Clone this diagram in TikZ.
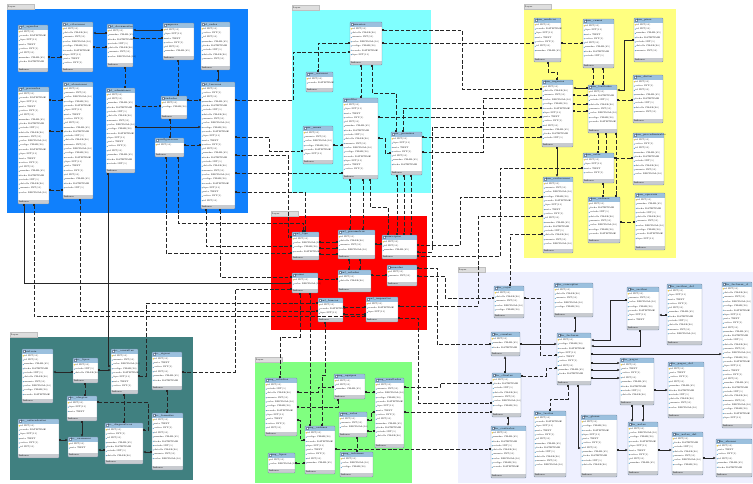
\documentclass[tikz,border=0pt]{standalone}
\usetikzlibrary{arrows.meta}

\definecolor{bluelayer}{RGB}{16,128,252}
\definecolor{cyanlayer}{RGB}{128,255,255}
\definecolor{yellowlayer}{RGB}{255,255,128}
\definecolor{redlayer}{RGB}{255,0,0}
\definecolor{lavlayer}{RGB}{238,240,255}
\definecolor{teallayer}{RGB}{64,128,128}
\definecolor{greenlayer}{RGB}{128,255,128}
\definecolor{tabhead}{RGB}{155,192,222}
\definecolor{tabfoot}{RGB}{200,203,208}
\definecolor{tabedge}{RGB}{120,140,165}
\definecolor{layertab}{RGB}{222,222,222}

% column texts, picked by row number
\newcommand{\colname}[1]{\ifcase#1 id INT(11)\or nombre CHAR(45)\or fecha DATETIME\or estado INT(1)\or detalle CHAR(90)\or usuario INT(11)\or valor DECIMAL(10)\or codigo CHAR(20)\or creado DATETIME\or tipo INT(11)\or nota TEXT\or activo INT(1)\fi}

% one table: name, x1, y1, x2, y2, title
\newcommand{\dbtab}[6]{%
  \pgfmathsetmacro\tbw{#4-#2}%
  \pgfmathsetmacro\tbh{#5-#3}%
  \pgfmathtruncatemacro\tbn{(\tbh-10.5)/4.3}%
  \node[dbbox, minimum width=\tbw pt, minimum height=\tbh pt, anchor=north west] (#1) at (#2,#3) {};
  \fill[tabhead] (#2,#3) rectangle (#4,#3+4.6);
  \fill[white, draw=tabedge, line width=0.2pt] (#2+0.9,#3+1.2) rectangle (#2+2.7,#3+3.4);
  \node[dbtitle, anchor=west] at (#2+3,#3+2.3) {#6};
  \fill[tabfoot] (#2,#5-4.4) rectangle (#4,#5);
  \node[dbrow, anchor=west] at (#2+0.8,#5-2.2) {Indexes};
  \foreach \k in {1,...,\tbn} {
    \pgfmathsetmacro\ry{#3+4.6+4.3*\k-2.1}
    \pgfmathtruncatemacro\ci{mod(\k+#2,12)}
    \ifnum\k=1 \fill[keycol] (#2+1.3,\ry) circle (0.7);
    \else \fill[fieldcol] (#2+1.3,\ry) circle (0.6); \fi
    \node[dbrow, anchor=west] at (#2+2.1,\ry) {\ifnum\k=1 \colname{0}\else\colname{\ci}\fi};
  }
  \draw[tabedge, line width=0.4pt, rounded corners=0.8pt] (#2,#3) rectangle (#4,#5);
}

% one layer: x1, y1, x2, y2, colour
\newcommand{\dblayer}[5]{%
  \fill[#5] (#1,#2) rectangle (#3,#4);
  \fill[layertab, draw=black!25, line width=0.2pt] (#1,#2-4.5) rectangle (#1+27,#2);
  \node[dbrow, anchor=west] at (#1+1,#2-2.3) {Layer};
}

\begin{document}
\begin{tikzpicture}[x=1pt, y=-1pt,
  dbbox/.style={fill=white, inner sep=0pt, outer sep=0pt},
  dbtitle/.style={font=\fontsize{2.5}{2.7}\selectfont, inner sep=0pt},
  dbrow/.style={font=\fontsize{2.2}{2.4}\selectfont, inner sep=0pt},
  keycol/.style={fill={rgb,255:red,240;green,190;blue,0}},
  fieldcol/.style={fill={rgb,255:red,80;green,160;blue,210}},
  rel/.style={black!85, line width=0.8pt, dash pattern=on 3.8pt off 1.9pt,
    {Square[length=1.8pt,width=1.8pt]}-{Square[length=1.8pt,width=1.8pt]}},
  relS/.style={black!85, line width=0.8pt,
    {Square[length=1.8pt,width=1.8pt]}-{Latex[length=2.6pt,width=2.4pt]}}]

\useasboundingbox (0,0) rectangle (753,483);

% layers
\dblayer{7}{9}{248}{213}{bluelayer}
\dblayer{292}{10}{431}{193}{cyanlayer}
\dblayer{524}{9}{676}{258}{yellowlayer}
\dblayer{271}{216}{427}{330}{redlayer}
\dblayer{458}{272}{753}{483}{lavlayer}
\dblayer{10}{337}{193}{480}{teallayer}
\dblayer{255}{362}{412}{483}{greenlayer}

% blue layer
\dbtab{afA}{18}{25}{48}{72}{af\_agendas}
\dbtab{afB}{62}{22}{93}{72}{af\_citaciones}
\dbtab{afC}{107}{24}{133}{67}{af\_documentos}
\dbtab{afD}{163}{23}{194}{60}{empresa}
\dbtab{afE}{201}{22}{230}{70}{af\_sedes}
\dbtab{afF}{18}{87}{49}{204}{af\_pacientes}
\dbtab{afG}{63}{82}{93}{199}{af\_atenciones}
\dbtab{afH}{106}{88}{135}{173}{af\_admisiones}
\dbtab{afI}{161}{96}{187}{119}{ciudades}
\dbtab{afJ}{155}{138}{184}{157}{configuracion}
\dbtab{afK}{201}{82}{235}{209}{af\_terceros}

% cyan layer
\dbtab{cyA}{350}{22}{382}{65}{usuarios}
\dbtab{cyB}{306}{72}{333}{92}{usr\_sesiones}
\dbtab{cyC}{343}{98}{378}{179}{perfiles}
\dbtab{cyD}{303}{126}{333}{164}{usr\_menu}
\dbtab{cyE}{391}{132}{422}{175}{usr\_permisos}

% yellow layer
\dbtab{hmA}{534}{18}{561}{62}{hm\_medicos}
\dbtab{hmB}{583}{19}{614}{68}{hm\_camas}
\dbtab{hmC}{634}{18}{663}{62}{hm\_pisos}
\dbtab{hmD}{542}{80}{573}{147}{hm\_ingresos}
\dbtab{hmE}{588}{85}{617}{133}{hm\_traslados}
\dbtab{hmF}{633}{75}{663}{123}{hm\_dietas}
\dbtab{hmG}{583}{153}{614}{183}{hm\_salas}
\dbtab{hmH}{633}{133}{664}{185}{hm\_procedimientos}
\dbtab{hmI}{543}{177}{573}{253}{hm\_evoluciones}
\dbtab{hmJ}{588}{197}{620}{243}{hm\_ordenes}
\dbtab{hmK}{635}{193}{665}{250}{hm\_epicrisis}

% red layer
\dbtab{rdA}{292}{232}{319}{260}{cnf\_tipo}
\dbtab{rdB}{338}{230}{375}{259}{cnf\_parametros}
\dbtab{rdC}{382}{235}{417}{259}{municipios}
\dbtab{rdD}{292}{273}{318}{293}{paises}
\dbtab{rdE}{338}{270}{371}{292}{cnf\_estados}
\dbtab{rdF}{387}{265}{417}{286}{monedas}
\dbtab{rdG}{318}{298}{343}{322}{cnf\_bancos}
\dbtab{rdH}{366}{297}{398}{322}{cnf\_impuestos}

% lavender layer
\dbtab{fnA}{494}{286}{524}{318}{fin\_cajas}
\dbtab{fnB}{554}{283}{593}{317}{fin\_conceptos}
\dbtab{fnC}{627}{287}{659}{330}{fin\_recibos}
\dbtab{fnD}{667}{284}{702}{345}{fin\_recibos\_det}
\dbtab{fnE}{722}{282}{752}{428}{fin\_facturas\_d}
\dbtab{fnF}{491}{332}{520}{356}{fin\_cuentas}
\dbtab{fnG}{557}{333}{591}{385}{fin\_facturas}
\dbtab{fnH}{620}{358}{654}{405}{fin\_pagos}
\dbtab{fnI}{668}{362}{704}{418}{fin\_pagos\_det}
\dbtab{fnJ}{492}{373}{521}{417}{fin\_clientes}
\dbtab{fnK}{491}{426}{526}{478}{fin\_contratos}
\dbtab{fnL}{534}{411}{566}{477}{fin\_tarifas}
\dbtab{fnM}{581}{415}{617}{477}{fin\_glosas}
\dbtab{fnN}{628}{422}{658}{475}{fin\_notas}
\dbtab{fnO}{672}{432}{703}{475}{fin\_notas\_det}
\dbtab{fnP}{716}{439}{752}{477}{fin\_abonos}

% teal layer
\dbtab{tlA}{22}{349}{53}{403}{historia}
\dbtab{tlB}{73}{358}{98}{383}{hc\_tipos}
\dbtab{tlC}{111}{349}{138}{394}{hc\_consultas}
\dbtab{tlD}{152}{352}{182}{390}{hc\_signos}
\dbtab{tlE}{67}{396}{97}{421}{hc\_alergias}
\dbtab{tlF}{18}{419}{59}{458}{hc\_antecedentes}
\dbtab{tlG}{68}{437}{98}{457}{hc\_examenes}
\dbtab{tlH}{105}{423}{143}{464}{hc\_diagnosticos}
\dbtab{tlI}{152}{413}{183}{470}{hc\_formulas}

% green layer
\dbtab{gnA}{265}{378}{297}{436}{img\_estudios}
\dbtab{gnB}{334}{374}{365}{399}{img\_equipos}
\dbtab{gnC}{375}{378}{404}{448}{img\_resultados}
\dbtab{gnD}{305}{426}{335}{474}{img\_ordenes}
\dbtab{gnE}{339}{412}{367}{437}{img\_salas}
\dbtab{gnF}{268}{453}{295}{473}{img\_tipos}
\dbtab{gnG}{340}{452}{373}{477}{img\_informes}

% relations inside blue
\draw[relS] (afC.west |- 0,33) -- (afB.east |- 0,33);
\draw[rel] (afC.west |- 0,47) -- (afB.east |- 0,47);
\draw[rel] (afB.west |- 0,57) -- (afA.east |- 0,57);
\draw[relS] (afD.west |- 0,30) -- (afC.east |- 0,30);
\draw[rel] (afD.west |- 0,38) -- (afC.east |- 0,38);
\draw[relS] (afK.north |- afE.south) -- (afK.north);
\draw[rel] (afG.west |- 0,100) -- (afF.east |- 0,100);
\draw[rel] (afF.east |- 0,131) -- (afG.west |- 0,131);
\draw[rel] (afF.east |- 0,190) -- (afG.west |- 0,190);
\draw[rel] (afH.east |- 0,106) -- (afI.west |- 0,106);
\draw[rel] (afI.east |- 0,100) -- (afK.west |- 0,100);
\draw[relS] (afH.east |- 0,127) -- (afK.west |- 0,127);
\draw[rel] (afJ.east |- 0,145) -- (afK.west |- 0,145);
\draw[rel] (afD.south -| 178,0) -- (afI.north -| 178,0);
\draw[rel] (afC.south -| 125,0) -- (afH.north -| 125,0);
\draw[rel] (afI.south -| 170,0) -- (afJ.north -| 170,0);

% blue to the other layers
\draw[rel] (afK.east |- 0,100) -- (293,100) |- (cyA.west |- 0,52);
\draw[rel] (afK.east |- 0,137) -- (269,137) |- (cyD.west |- 0,151);
\draw[rel] (afK.east |- 0,155) -- (288,155) |- (rdA.west |- 0,237);
\draw[rel] (afK.east |- 0,173) -- (cyC.west |- 0,173);
\draw[rel] (afK.east |- 0,192) -- (305,192) -- (rdA.north -| 305,0);
\draw[rel] (afJ.south -| 178,0) |- (303,223) -- (rdA.north -| 303,0);
\draw[rel] (afK.south -| 206,0) |- (rdA.west |- 0,246);
\draw[rel] (afJ.south -| 166,0) |- (rdA.west |- 0,253);
\draw[rel] (afK.south -| 220,0) |- (rdD.west |- 0,277);
\draw[relS] (afF.south -| 24,0) |- (rdD.west |- 0,283);
\draw[rel] (afF.south -| 34,0) |- (rdH.west |- 0,316);
\draw[relS] (afH.south -| 108,0) |- (tlC.west |- 0,366);
\draw[rel] (afG.south -| 80,0) |- (rdG.west |- 0,311);

% relations inside cyan
\draw[rel] (cyA.west |- 0,43) -- (318,43) -- (cyB.north -| 318,0);
\draw[rel] (cyA.south -| 361,0) -- (cyC.north -| 361,0);
\draw[rel] (cyA.south -| 372,0) |- (396,93) -- (cyE.north -| 396,0);
\draw[rel] (cyD.east |- 0,145) -- (cyC.west |- 0,145);
\draw[rel] (cyC.east |- 0,138) -- (385,138) |- (cyE.west |- 0,153);

% cyan to yellow and red
\draw[rel] (cyA.east |- 0,43) -- (hmA.west |- 0,43);
\draw[rel] (hmA.east |- 0,43) -- (hmB.west |- 0,43);
\draw[rel] (cyA.east |- 0,30) -- (462,30) |- (hmD.west |- 0,89);
\draw[rel] (cyE.east |- 0,152) -- (483,152) |- (hmD.west |- 0,98);
\draw[rel] (cyE.north -| 403,0) |- (hmD.west |- 0,108);
\draw[rel] (cyC.east |- 0,117) -- (hmD.west |- 0,117);
\draw[rel] (cyE.east |- 0,137) -- (hmD.west |- 0,137);
\draw[rel] (hmD.west |- 0,127) -- (432,127) |- (rdC.east |- 0,252);
\draw[rel] (cyC.south -| 350,0) -- (rdB.north -| 350,0);
\draw[rel] (cyC.south -| 363,0) -- (rdB.north -| 363,0);
\draw[rel] (cyC.south -| 370,0) |- (388,207) -- (rdC.north -| 388,0);
\draw[rel] (cyE.south -| 397,0) -- (rdC.north -| 397,0);
\draw[rel] (cyE.south -| 404,0) -- (rdC.north -| 404,0);
\draw[rel] (cyE.south -| 411,0) -- (rdC.north -| 411,0);

% relations inside yellow
\draw[rel] (hmA.south -| 548,0) |- (557,72) -- (hmD.north -| 557,0);
\draw[rel] (hmB.south -| 593,0) -- (hmE.north -| 593,0);
\draw[rel] (hmB.south -| 603,0) -- (hmE.north -| 603,0);
\draw[relS] (hmC.west |- 0,40) -- (624,40) |- (hmE.east |- 0,90);
\draw[rel] (hmF.west |- 0,100) -- (hmE.east |- 0,100);
\draw[relS] (hmE.west |- 0,88) -- (hmD.east |- 0,88);
\draw[rel] (hmE.west |- 0,95) -- (hmD.east |- 0,95);
\draw[rel] (hmE.west |- 0,104) -- (hmD.east |- 0,104);
\draw[rel] (hmE.west |- 0,111) -- (hmD.east |- 0,111);
\draw[relS] (hmD.south -| 557,0) -- (hmI.north -| 557,0);
\draw[rel] (hmE.south -| 598,0) -- (hmG.north -| 598,0);
\draw[rel] (hmE.south -| 606,0) -- (hmG.north -| 606,0);
\draw[rel] (hmE.south -| 616,0) -- (hmJ.north -| 616,0);
\draw[rel] (hmG.east |- 0,158) -- (hmH.west |- 0,158);
\draw[rel] (hmG.south -| 603,0) -- (hmJ.north -| 603,0);
\draw[rel] (hmJ.east |- 0,222) -- (hmK.west |- 0,222);

% yellow down to red and lavender
\draw[rel] (hmG.west |- 0,168) -- (500,168) |- (rdC.east |- 0,256);
\draw[rel] (hmI.west |- 0,197) -- (460,197) |- (rdC.east |- 0,245);
\draw[rel] (hmI.west |- 0,216) -- (478,216) |- (rdH.east |- 0,306);
\draw[rel] (hmI.west |- 0,234) -| (fnA.north -| 510,0);

% relations inside red
\draw[rel] (rdA.east |- 0,242) -- (rdB.west |- 0,242);
\draw[rel] (rdA.east |- 0,248) -- (rdB.west |- 0,248);
\draw[rel] (rdA.east |- 0,254) -- (rdB.west |- 0,254);
\draw[rel] (rdB.south -| 349,0) -- (rdE.north -| 349,0);
\draw[rel] (rdB.south -| 360,0) -- (rdE.north -| 360,0);
\draw[rel] (rdC.west |- 0,244) -- (rdB.east |- 0,244);
\draw[rel] (rdF.west |- 0,275) -- (rdE.east |- 0,275);
\draw[rel] (rdD.east |- 0,279) -- (rdE.west |- 0,279);
\draw[rel] (rdG.east |- 0,307) -- (rdH.west |- 0,307);
\draw[rel] (rdG.east |- 0,314) -- (rdH.west |- 0,314);

% red to teal, green and lavender
\draw[rel] (rdD.west |- 0,289) -- (235,289) |- (tlD.east |- 0,372);
\draw[rel] (tlC.east |- 0,376) -- (146,376) |- (rdG.west |- 0,303);
\draw[rel] (rdD.south -| 300,0) |- (280,337) -- (gnA.north -| 280,0);
\draw[rel] (rdD.south -| 310,0) -- (gnD.north -| 310,0);
\draw[rel] (rdG.south -| 325,0) |- (322,375) -- (gnD.north -| 322,0);
\draw[rel] (rdF.east |- 0,276) -- (445,276) |- (fnA.west |- 0,298);
\draw[rel] (rdF.east |- 0,268) -- (437,268) |- (fnF.west |- 0,344);
\draw[rel] (rdH.east |- 0,318) -- (418,318) |- (fnJ.west |- 0,403);

% relations inside lavender
\draw[relS] (fnB.south -| 575,0) -- (fnG.north -| 575,0);
\draw[relS] (fnC.west |- 0,300) -- (610,300) |- (fnG.east |- 0,340);
\draw[relS] (fnC.south -| 640,0) |- (fnG.east |- 0,346);
\draw[relS] (fnD.west |- 0,315) -- (fnC.east |- 0,315);
\draw[relS] (fnG.east |- 0,354) -- (fnE.west |- 0,354);
\draw[relS] (fnG.east |- 0,363) -- (fnH.west |- 0,363);
\draw[relS] (fnG.east |- 0,370) -- (fnH.west |- 0,370);
\draw[relS] (fnG.east |- 0,378) -- (fnH.west |- 0,378);
\draw[relS] (fnH.east |- 0,390) -- (fnI.west |- 0,390);
\draw[relS] (fnH.south -| 632,0) -- (fnN.north -| 632,0);
\draw[relS] (fnH.south -| 643,0) -- (fnN.north -| 643,0);
\draw[relS] (fnM.east |- 0,450) -- (fnN.west |- 0,450);
\draw[relS] (fnN.east |- 0,450) -- (fnO.west |- 0,450);
\draw[relS] (fnO.east |- 0,458) -- (fnP.west |- 0,458);
\draw[relS] (fnG.south -| 578,0) |- (fnM.west |- 0,448);
\draw[relS] (fnJ.north -| 505,0) -- (fnF.south -| 505,0);
\draw[relS] (fnJ.south -| 508,0) -- (fnK.north -| 508,0);
\draw[relS] (fnF.east |- 0,344) -- (fnG.west |- 0,344);
\draw[rel] (fnA.east |- 0,298) -- (540,298) |- (fnG.west |- 0,355);
\draw[rel] (fnJ.east |- 0,376) -- (546,376) |- (fnG.west |- 0,368);
\draw[rel] (fnG.south -| 568,0) |- (550,399) -- (fnL.north -| 550,0);

% relations inside teal
\draw[relS] (tlB.west |- 0,372) -- (tlA.east |- 0,372);
\draw[relS] (tlB.east |- 0,370) -- (tlC.west |- 0,370);
\draw[rel] (tlB.south -| 85,0) -- (tlE.north -| 85,0);
\draw[rel] (tlC.south -| 124,0) -- (tlH.north -| 124,0);
\draw[rel] (tlE.east |- 0,402) -- (148,402) |- (tlH.east |- 0,430);
\draw[rel] (tlD.south -| 167,0) -- (tlI.north -| 167,0);
\draw[relS] (tlE.south -| 82,0) -- (tlG.north -| 82,0);
\draw[relS] (tlF.east |- 0,440) -- (tlG.west |- 0,440);
\draw[relS] (tlH.west |- 0,450) -- (tlG.east |- 0,450);
\draw[relS] (tlI.west |- 0,452) -- (tlH.east |- 0,452);

% relations inside green
\draw[rel] (gnA.east |- 0,392) -- (318,392) |- (gnB.west |- 0,387);
\draw[rel] (gnB.south -| 338,0) |- (gnA.east |- 0,407);
\draw[rel] (gnB.east |- 0,392) -- (gnC.west |- 0,392);
\draw[rel] (gnE.east |- 0,420) -- (371,420) |- (gnC.west |- 0,412);
\draw[rel] (gnE.east |- 0,431) -- (gnC.west |- 0,431);
\draw[rel] (gnE.south -| 357,0) -- (gnG.north -| 357,0);
\draw[rel] (gnA.east |- 0,420) -- (300,420) |- (gnD.west |- 0,440);
\draw[rel] (gnF.east |- 0,463) -- (gnD.west |- 0,463);
\draw[rel] (gnD.east |- 0,449) -- (fnK.west |- 0,449);
\draw[rel] (gnC.east |- 0,387) -- (440,387) |- (fnJ.west |- 0,383);
\draw[rel] (gnC.east |- 0,412) -- (fnJ.west |- 0,412);

\end{tikzpicture}
\end{document}
